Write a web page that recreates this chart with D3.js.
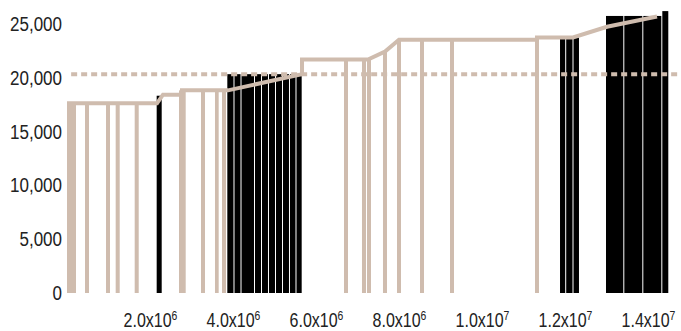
<html>
<head>
    <title>chart</title>
    <script src="https://cdnjs.cloudflare.com/ajax/libs/d3/7.8.5/d3.min.js"></script>
    <style type="text/css">
        body { margin: 0; background: #fff; }
        text { font-family: "Liberation Sans", Arial, sans-serif; fill: #222; }
    </style>
</head>
<body>
<script>
    var w = 681;
    var h = 331;
    var beige = "#cfbcae";

    // thin beige bars (start, end, value)
    var beigeStart = [0.000e6, 0.434e6, 0.940e6, 1.173e6, 1.631e6, 2.699e6, 3.229e6, 3.566e6, 3.735e6,
                      6.675e6, 7.108e6, 7.229e6, 7.614e6, 7.952e6, 8.506e6, 9.229e6, 11.277e6];
    var beigeEnd   = [0.217e6, 0.530e6, 1.036e6, 1.270e6, 1.728e6, 2.860e6, 3.325e6, 3.655e6, 3.831e6,
                      6.771e6, 7.205e6, 7.325e6, 7.711e6, 8.048e6, 8.602e6, 9.325e6, 11.373e6];
    var beigeValue = [17600, 17600, 17600, 17600, 17600, 18800, 18800, 18800, 18800,
                      21650, 21650, 21650, 22400, 23500, 23500, 23500, 23700];

    // black bars (start, end, value)
    var blackStart = [2.161e6, 3.863e6, 4.036e6, 4.205e6, 4.530e6, 4.699e6, 4.867e6, 5.036e6, 5.205e6, 5.373e6, 5.530e6,
                      11.880e6, 12.029e6, 12.205e6, 12.988e6, 13.429e6, 13.887e6, 14.345e6];
    var blackEnd   = [2.306e6, 4.036e6, 4.205e6, 4.530e6, 4.699e6, 4.867e6, 5.036e6, 5.205e6, 5.373e6, 5.530e6, 5.679e6,
                      12.029e6, 12.205e6, 12.361e6, 13.429e6, 13.887e6, 14.345e6, 14.513e6];
    var blackValue = [18300, 20300, 20300, 20300, 20300, 20300, 20300, 20300, 20300, 20300, 20300,
                      23700, 23700, 23700, 25700, 25700, 25700, 26150];

    // beige line over the bars
    var lineX = [0, 2.169e6, 2.313e6, 2.771e6, 2.771e6, 3.880e6, 5.663e6, 5.663e6, 7.253e6, 7.663e6, 8.000e6,
                 11.325e6, 11.325e6, 12.193e6, 13.012e6, 14.217e6];
    var lineY = [17600, 17600, 18400, 18400, 18800, 18800, 20300, 21650, 21650, 22400, 23500,
                 23500, 23700, 23700, 24700, 25650];

    // dashed reference
    var refValue = 20300;
    var refStart = 0.1e6;
    var refEnd = 14.8e6;

    var yTicks = [0, 5000, 10000, 15000, 20000, 25000];
    var xTicks = [2e6, 4e6, 6e6, 8e6, 10e6, 12e6, 14e6];

    var x = d3.scaleLinear().domain([0, 14e6]).range([67, 648]);
    var y = d3.scaleLinear().domain([0, 25000]).range([293, 23.5]);
    var squeeze = 0.81; // fake a condensed face

    var svg = d3.select("body")
        .append("svg")
        .attr("width", w)
        .attr("height", h);

    var beigeBars = beigeStart.map(function(d, i) {
        return { x0: d, x1: beigeEnd[i], v: beigeValue[i] };
    });
    var blackBars = blackStart.map(function(d, i) {
        return { x0: d, x1: blackEnd[i], v: blackValue[i] };
    });

    svg.append("g").selectAll("rect")
        .data(beigeBars)
        .enter()
        .append("rect")
        .attr("x", function(d) { return x(d.x0); })
        .attr("y", function(d) { return y(d.v); })
        .attr("width", function(d) { return x(d.x1) - x(d.x0); })
        .attr("height", function(d) { return y(0) - y(d.v); })
        .attr("fill", beige);

    svg.append("g").selectAll("rect")
        .data(blackBars)
        .enter()
        .append("rect")
        .attr("x", function(d) { return x(d.x0); })
        .attr("y", function(d) { return y(d.v); })
        .attr("width", function(d) { return x(d.x1) - x(d.x0) - 1; })
        .attr("height", function(d) { return y(0) - y(d.v); })
        .attr("fill", "#000");

    svg.append("line")
        .attr("x1", x(refStart))
        .attr("x2", x(refEnd))
        .attr("y1", y(refValue))
        .attr("y2", y(refValue))
        .attr("stroke", beige)
        .attr("stroke-width", 4)
        .attr("stroke-dasharray", "6,4");

    var line = d3.line()
        .x(function(d) { return x(d[0]); })
        .y(function(d) { return y(d[1]); });

    svg.append("path")
        .datum(lineX.map(function(d, i) { return [d, lineY[i]]; }))
        .attr("d", line)
        .attr("fill", "none")
        .attr("stroke", beige)
        .attr("stroke-width", 4);

    // y axis
    var yAxis = svg.append("g")
        .attr("transform", "translate(67,0)")
        .call(d3.axisLeft(y).tickValues(yTicks).tickSize(0).tickPadding(5).tickFormat(d3.format(",")));
    yAxis.select(".domain").remove();
    yAxis.selectAll("text")
        .attr("font-size", "21px")
        .attr("font-family", null)
        .attr("fill", "#222")
        .attr("x", -5 / squeeze)
        .attr("transform", "scale(" + squeeze + ",1)");

    // x axis with superscript exponents
    var xAxis = svg.append("g")
        .attr("transform", "translate(0,293)")
        .call(d3.axisBottom(x).tickValues(xTicks).tickSize(0));
    xAxis.select(".domain").remove();
    xAxis.selectAll("text")
        .attr("font-size", "20px")
        .attr("font-family", null)
        .attr("fill", "#222")
        .attr("y", 34)
        .attr("dy", 0)
        .attr("transform", "scale(0.8,1)")
        .text(null)
        .each(function(d) {
            var e = Math.floor(Math.log10(d));
            var m = d / Math.pow(10, e);
            var t = d3.select(this);
            t.append("tspan").text(m.toFixed(1) + "x10");
            t.append("tspan").attr("font-size", "13px").attr("dy", -7).text(e);
        });
</script>
</body>
</html>
